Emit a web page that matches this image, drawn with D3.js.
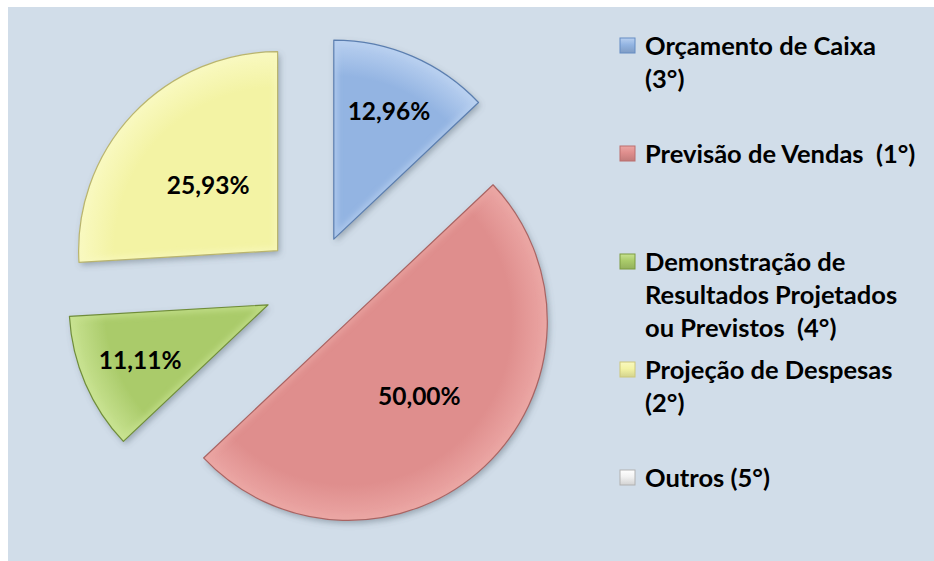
<!DOCTYPE html>
<html>
<head>
<meta charset="utf-8">
<script src="https://cdn.jsdelivr.net/npm/d3@7"></script>
<style>
  html, body { margin: 0; padding: 0; background: #ffffff; }
  svg { display: block; font-family: Lato, "Open Sans", sans-serif; }
  .legend text { white-space: pre; }
</style>
</head>
<body>
<div id="chart"></div>
<script>
// chart data
const categories = [
  "Orçamento de Caixa (3°)",
  "Previsão de Vendas  (1°)",
  "Demonstração de Resultados Projetados ou Previstos  (4°)",
  "Projeção de Despesas (2°)",
  "Outros (5°)"
];
const values = [12.96, 50.00, 11.11, 25.93, 0];
// legend text, already split into lines as in the original
const legendLines = [
  ["Orçamento de Caixa", "(3°)"],
  ["Previsão de Vendas  (1°)"],
  ["Demonstração de", "Resultados Projetados", "ou Previstos  (4°)"],
  ["Projeção de Despesas", "(2°)"],
  ["Outros (5°)"]
];

// styling
const fills  = ["#93b4e2", "#df8e8d", "#aacb6a", "#f3f3a4", "#f2f2f2"];
const lights = ["#b9d0f0", "#eba6a4", "#c8e291", "#f9f9c0", "#ffffff"];
const edges  = ["#5b7eaf", "#a86463", "#6f8c3a", "#b9b46e", "#a0a0a0"];
const labelFrac = [0.70, 0.52, 0.70, 0.48, 0.5]; // distance of label from slice tip

const width = 934, height = 561;
const margin = {top: 7, left: 8};
const center = {x: 314, y: 285};
const radius = 199;
const explode = 50;

const svg = d3.select('#chart').append('svg')
  .attr('width', width)
  .attr('height', height);

svg.append('rect')
  .attr('x', margin.left).attr('y', margin.top)
  .attr('width', width - margin.left).attr('height', height - margin.top)
  .attr('fill', '#d1dde9');

const defs = svg.append('defs');

const shadow = defs.append('filter').attr('id', 'shadow')
  .attr('x', '-20%').attr('y', '-20%').attr('width', '140%').attr('height', '140%');
shadow.append('feDropShadow')
  .attr('dx', 2).attr('dy', 3).attr('stdDeviation', 3)
  .attr('flood-color', '#556070').attr('flood-opacity', 0.45);

const soft = defs.append('filter').attr('id', 'soft');
soft.append('feGaussianBlur').attr('stdDeviation', 2.5);

const pie = d3.pie().sort(null).value(d => d)(values);
const arc = d3.arc().innerRadius(0).outerRadius(radius);

const fmt = d3.formatLocale({decimal: ',', thousands: '.', grouping: [3], currency: ['R$', '']}).format('.2f');

const slices = svg.append('g')
  .attr('transform', 'translate(' + center.x + ',' + center.y + ')')
  .selectAll('.slice')
  .data(pie.filter(d => d.value > 0))
  .enter().append('g')
  .attr('class', 'slice')
  .attr('transform', d => {
    const mid = (d.startAngle + d.endAngle) / 2;
    return 'translate(' + (Math.sin(mid) * explode) + ',' + (-Math.cos(mid) * explode) + ')';
  });

slices.each(function(d) {
  const g = d3.select(this);
  const i = d.index;
  const mid = (d.startAngle + d.endAngle) / 2;

  const grad = defs.append('radialGradient')
    .attr('id', 'grad' + i)
    .attr('gradientUnits', 'userSpaceOnUse')
    .attr('cx', 0).attr('cy', 0)
    .attr('r', radius);
  grad.append('stop').attr('offset', '0%').attr('stop-color', fills[i]);
  grad.append('stop').attr('offset', '82%').attr('stop-color', fills[i]);
  grad.append('stop').attr('offset', '100%').attr('stop-color', lights[i]);

  defs.append('clipPath').attr('id', 'clip' + i)
    .append('path').attr('d', arc(d));

  g.append('path')
    .attr('d', arc(d))
    .attr('fill', 'url(#grad' + i + ')')
    .attr('filter', 'url(#shadow)');

  // soft bevel: light rim inside the slice edge
  g.append('path')
    .attr('d', arc(d))
    .attr('fill', 'none')
    .attr('stroke', lights[i])
    .attr('stroke-width', 8)
    .attr('stroke-opacity', 0.6)
    .attr('filter', 'url(#soft)')
    .attr('clip-path', 'url(#clip' + i + ')');

  g.append('path')
    .attr('d', arc(d))
    .attr('fill', 'none')
    .attr('stroke', edges[i])
    .attr('stroke-width', 1.2)
    .attr('stroke-linejoin', 'round');

  g.append('text')
    .attr('x', Math.sin(mid) * radius * labelFrac[i])
    .attr('y', -Math.cos(mid) * radius * labelFrac[i])
    .attr('dy', '0.35em')
    .attr('text-anchor', 'middle')
    .attr('font-size', 24.5)
    .attr('font-weight', 'bold')
    .attr('fill', '#000')
    .text(fmt(d.value) + '%');
});

// legend
const legendY = d3.scaleLinear()
  .domain([0, categories.length - 1])
  .range([55, 487]);

const legend = svg.append('g').attr('class', 'legend')
  .selectAll('.item')
  .data(categories)
  .enter().append('g')
  .attr('class', 'item')
  .attr('transform', (d, i) => 'translate(620,' + legendY(i) + ')');

legend.each(function(d, i) {
  const g = d3.select(this);
  const mg = defs.append('linearGradient').attr('id', 'mark' + i)
    .attr('x1', 0).attr('y1', 0).attr('x2', 0).attr('y2', 1);
  mg.append('stop').attr('offset', '0%').attr('stop-color', lights[i]);
  mg.append('stop').attr('offset', '45%').attr('stop-color', fills[i]);
  mg.append('stop').attr('offset', '100%').attr('stop-color', d3.color(fills[i]).darker(0.4));

  g.append('rect')
    .attr('x', 0).attr('y', -17)
    .attr('width', 15).attr('height', 15)
    .attr('fill', 'url(#mark' + i + ')')
    .attr('stroke', d3.color(edges[i]).brighter(0.3))
    .attr('stroke-width', 1);

  g.append('text')
    .attr('x', 25)
    .attr('font-size', 25.5)
    .attr('font-weight', 'bold')
    .attr('fill', '#000')
    .selectAll('tspan')
    .data(legendLines[i])
    .enter().append('tspan')
    .attr('x', 25)
    .attr('dy', (l, j) => j === 0 ? 0 : 33)
    .text(l => l);
});
</script>
</body>
</html>
